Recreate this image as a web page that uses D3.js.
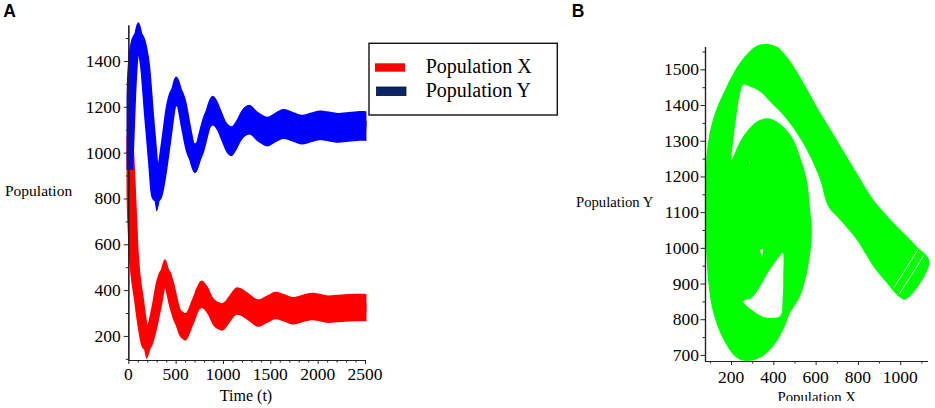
<!DOCTYPE html>
<html><head><meta charset="utf-8">
<script src="https://cdn.jsdelivr.net/npm/d3@7"></script>
<style>
body{margin:0;background:#fff}
svg{display:block}
</style>
</head><body>
<svg id="c" width="935" height="408"></svg>
<script>
// ---------- data ----------
const tickAX = [0, 500, 1000, 1500, 2000, 2500];
const tickAY = [200, 400, 600, 800, 1000, 1200, 1400];
const tickBX = [200, 400, 600, 800, 1000];
const tickBY = [700, 800, 900, 1000, 1100, 1200, 1300, 1400, 1500];
const seriesNames = ["Population X", "Population Y"];

// Population X (red) : centre of the band over time
const xTime = [0,25,55,113,160,180,194,210,240,300,345,388,430,480,540,580,599,620,660,720,775,830,900,960,986,1010,1070,1150,1260,1373,1470,1560,1650,1742,1840,1940,2030,2112,2250,2412,2515];
const xPop  = [1075,866,580,357,220,175,160,172,215,330,430,475,430,340,262,245,240,246,280,350,382,360,305,287,283,287,318,352,330,300,318,333,322,310,320,328,323,317,321,324,324];
// Population Y (blue)
const yTime = [0,30,60,106,150,176,219,264,285,300,318,345,400,450,505,560,610,660,690,704,720,750,800,850,891,940,990,1040,1092,1140,1190,1278,1370,1470,1555,1640,1740,1835,1930,2025,2120,2220,2330,2445,2515];
const yPop  = [925,1250,1440,1504,1450,1382,1164,946,835,808,830,890,1050,1200,1267,1220,1110,1010,980,975,980,1010,1090,1160,1183,1160,1110,1065,1050,1075,1115,1144,1112,1092,1110,1125,1112,1100,1110,1119,1114,1108,1112,1117,1116];
// half height of the fast-oscillation band (population units)
const bandHalf = [60, 65];

// Phase portrait (panel B): outline of the green trajectory band
const phaseX = [1138,1078,1015,873,794,700,605,526,463,416,369,322,258,211,164,124,93,80,79,80,93,116,164,227,274,337,400,447,479,526,565,582,574,558,526,495,447,400,369,322,274,235,203,211,227,243,258,290,337,384,447,511,574,621,660,715,794,873,936,983,1023];
const phaseY = [962,1004,1042,1135,1210,1303,1396,1480,1536,1564,1571,1566,1531,1489,1433,1377,1303,1210,1116,1042,902,818,743,692,683,692,725,771,818,864,948,1042,1107,1191,1256,1303,1340,1359,1363,1354,1326,1289,1247,1303,1377,1433,1457,1452,1438,1410,1372,1321,1256,1191,1116,1079,1023,948,902,869,855];
// white hole inside the band
const holeX = [258,305,369,432,444,447,444,424,384,337,298];
const holeY = [850,823,804,809,855,920,986,972,939,892,860];
const speckX = [337,352,346];
const speckY = [995,997,973];
const dotX = [285,290,289];
const dotY = [1241,1240,1233];
// thin gaps between strands at the end of the trajectory
const stripeX = [[1111,997],[1084,971]];
const stripeY = [[978,872],[995,889]];

// ---------- drawing ----------
const SERIF = '"Liberation Serif","Times New Roman",serif';
const SANS = '"Liberation Sans",Arial,sans-serif';
const svg = d3.select("#c");
const axisCol = "#222";

function txt(x,y,s,fs,anchor,fam){
  return svg.append("text").attr("x",x).attr("y",y).attr("text-anchor",anchor||"start")
    .attr("font-family",fam||SERIF).style("font-family",fam||SERIF)
    .style("font-size",fs+"px").attr("fill","#000").text(s);
}
function axisLines(g){
  g.selectAll("path.domain").attr("stroke",axisCol).attr("stroke-width",1.2);
  g.selectAll(".tick line").attr("stroke",axisCol).attr("stroke-width",1);
  g.selectAll(".tick text").remove();
}

// Panel A scales
const ax = d3.scaleLinear().domain([0, 2500]).range([128.3, 365]);
const ay = d3.scaleLinear().domain([95, 1557]).range([360, 25]);

svg.append("clipPath").attr("id","clipA").append("rect")
  .attr("x",126.5).attr("y",10).attr("width",245).attr("height",352);

function band(times, vals, half, color) {
  const pts = times.map((t,i)=>({t, v: vals[i]}));
  const g = svg.append("g").attr("clip-path","url(#clipA)");
  g.append("path").datum(pts)
    .attr("d", d3.area().x(d=>ax(d.t)).y0(d=>ay(d.v-half)).y1(d=>ay(d.v+half)).curve(d3.curveMonotoneX))
    .attr("fill", color);
  g.append("path").datum(pts)
    .attr("d", d3.line().x(d=>ax(d.t)).y(d=>ay(d.v)).curve(d3.curveMonotoneX))
    .attr("fill","none").attr("stroke",color).attr("stroke-width",10).attr("stroke-linejoin","round");
}
band(xTime, xPop, bandHalf[0], "#ff0000");
band(yTime, yPop, bandHalf[1], "#0000ff");

// A axes
const gAyMin = svg.append("g").attr("transform",`translate(${ax(0)},0)`)
  .call(d3.axisLeft(ay).tickValues(d3.range(100,1600,200)).tickSize(2.5).tickFormat("").tickSizeOuter(0));
axisLines(gAyMin);
const gAy = svg.append("g").attr("transform",`translate(${ax(0)},0)`)
  .call(d3.axisLeft(ay).tickValues(tickAY).tickSize(4.5).tickFormat("").tickSizeOuter(0));
axisLines(gAy);
tickAY.forEach(v=>txt(ax(0)-7.5, ay(v)+6, String(v), 17.5, "end"));

const gAxMin = svg.append("g").attr("transform",`translate(0,${ay(95)})`)
  .call(d3.axisBottom(ax).tickValues(d3.range(100,2600,100).filter(v=>v%500)).tickSize(2.5).tickFormat("").tickSizeOuter(0));
axisLines(gAxMin);
const gAx = svg.append("g").attr("transform",`translate(0,${ay(95)})`)
  .call(d3.axisBottom(ax).tickValues(tickAX).tickSize(4).tickFormat("").tickSizeOuter(0));
axisLines(gAx);
tickAX.forEach(v=>txt(ax(v), ay(95)+19.5, String(v), 17.5, "middle"));

txt(5,196,"Population",15.5);
txt(246,401,"Time (t)",16,"middle");

// Legend
const lg = svg.append("g");
lg.append("rect").attr("x",369).attr("y",43.3).attr("width",188.3).attr("height",71.7)
  .attr("fill","#fff").attr("stroke","#111").attr("stroke-width",1.4);
lg.append("rect").attr("x",375).attr("y",63.3).attr("width",30).attr("height",8.4).attr("fill","#ff0000");
lg.append("rect").attr("x",376.5).attr("y",87).attr("width",29.5).attr("height",8.6)
  .attr("fill","#0b2466").attr("stroke","#061433").attr("stroke-width",0.8);
seriesNames.forEach((d,i)=>txt(425.7, 73.3+i*23.4, d, 20));

// Panel labels
txt(3.3,16.7,"A",17.5,"start",SANS).style("font-weight","bold");
txt(571.7,16.7,"B",17.5,"start",SANS).style("font-weight","bold");

// Panel B scales
const bx = d3.scaleLinear().domain([77, 1128]).range([705, 927.3]);
const by = d3.scaleLinear().domain([683, 1564]).range([361, 46.5]);

const poly = d3.line().x(d=>bx(d[0])).y(d=>by(d[1])).curve(d3.curveCatmullRomClosed.alpha(0.5));
const polyLin = d3.line().x(d=>bx(d[0])).y(d=>by(d[1])).curve(d3.curveLinearClosed);
const zipPts = (X,Y)=>X.map((x,i)=>[x,Y[i]]);
svg.append("path").attr("d", poly(zipPts(phaseX,phaseY))).attr("fill","#00ff00");
svg.append("path").attr("d", poly(zipPts(holeX,holeY))).attr("fill","#fff");
svg.append("path").attr("d", polyLin(zipPts(speckX,speckY))).attr("fill","#fff");
svg.append("path").attr("d", polyLin(zipPts(dotX,dotY))).attr("fill","#fff");
stripeX.forEach((sx,i)=>{
  svg.append("path").attr("d", d3.line().x(d=>bx(d[0])).y(d=>by(d[1]))(zipPts(sx,stripeY[i])))
    .attr("stroke","#fff").attr("stroke-width",1).attr("fill","none").attr("opacity",0.85);
});

const gByMin = svg.append("g").attr("transform",`translate(${bx(77)},0)`)
  .call(d3.axisLeft(by).tickValues(d3.range(750,1600,100)).tickSize(2.5).tickFormat("").tickSizeOuter(0));
axisLines(gByMin);
const gBy = svg.append("g").attr("transform",`translate(${bx(77)},0)`)
  .call(d3.axisLeft(by).tickValues(tickBY).tickSize(4.5).tickFormat("").tickSizeOuter(0));
axisLines(gBy);
tickBY.forEach(v=>txt(bx(77)-6, by(v)+6, String(v), 17.5, "end"));

const gBxMin = svg.append("g").attr("transform",`translate(0,${by(683)})`)
  .call(d3.axisBottom(bx).tickValues(d3.range(100,1200,200)).tickSize(2.5).tickFormat("").tickSizeOuter(0));
axisLines(gBxMin);
const gBx = svg.append("g").attr("transform",`translate(0,${by(683)})`)
  .call(d3.axisBottom(bx).tickValues(tickBX).tickSize(4).tickFormat("").tickSizeOuter(0));
axisLines(gBx);
tickBX.forEach(v=>txt(bx(v), by(683)+22, String(v), 17.5, "middle"));

txt(576,207.3,"Population Y",14.7);
svg.append("clipPath").attr("id","clipBot").append("rect").attr("x",0).attr("y",0).attr("width",935).attr("height",401);
txt(816.7,402,"Population X",14.8,"middle").attr("clip-path","url(#clipBot)");
</script>
</body></html>
